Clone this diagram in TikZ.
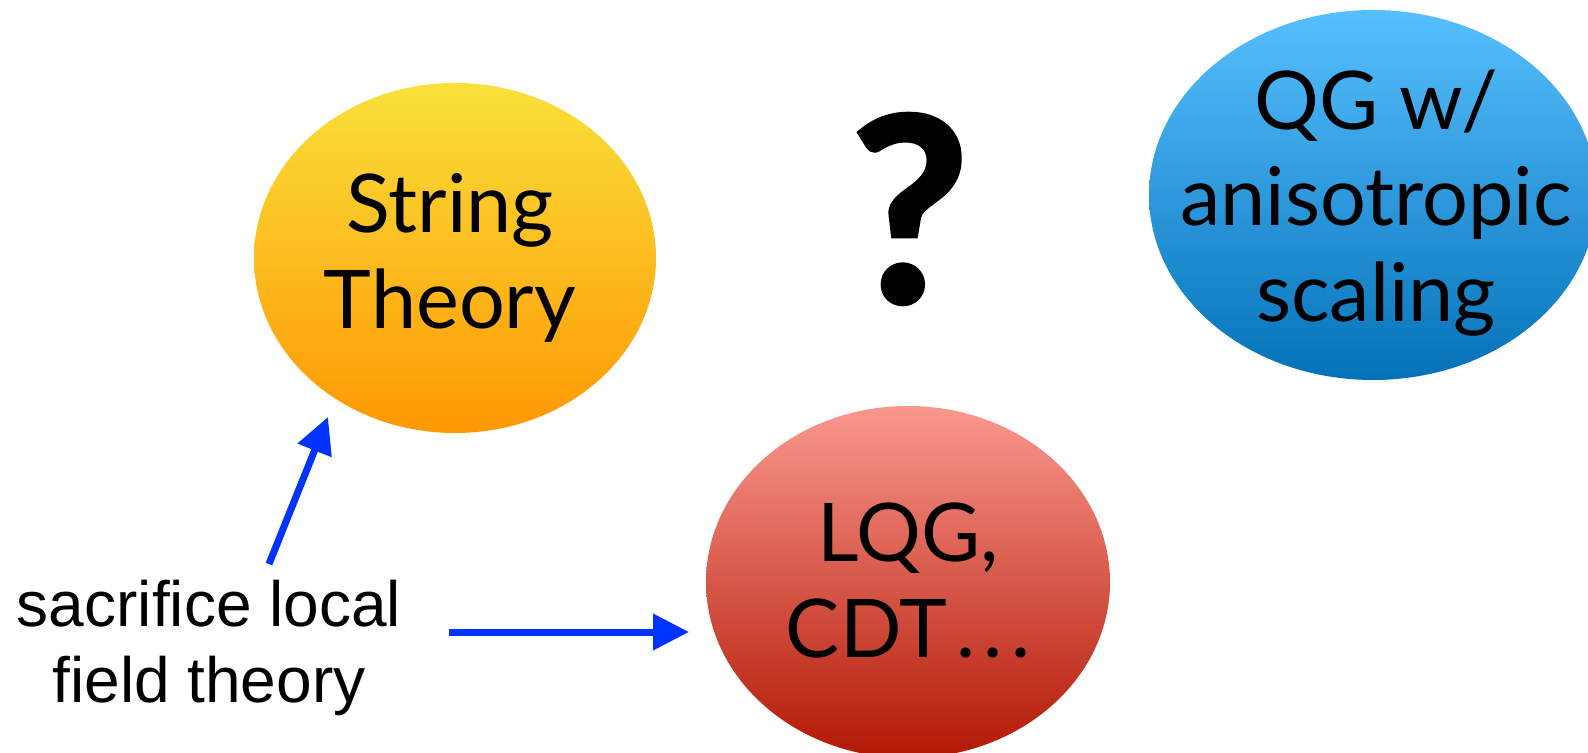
\documentclass[tikz,border=0pt]{standalone}
\usepackage{fontspec}
\usetikzlibrary{shapes.geometric,arrows.meta}
\newfontfamily\bubblefont{Lato}
\newfontfamily\notefont{Liberation Sans}
\newfontfamily\markfont[BoldFeatures={FakeBold=1.3}]{Carlito}
\definecolor{arrowblue}{RGB}{0,51,255}
\definecolor{yellowtop}{RGB}{249,224,58}
\definecolor{yellowbot}{RGB}{255,152,4}
\definecolor{bluetop}{RGB}{86,191,255}
\definecolor{bluebot}{RGB}{5,114,184}
\definecolor{redtop}{RGB}{250,152,142}
\definecolor{redbot}{RGB}{178,24,4}
\newcommand{\wdots}{\kern0.12em.\kern0.1em.\kern0.1em.}
\begin{document}
\begin{tikzpicture}[x=0.5pt,y=-0.5pt,
  blob/.style={ellipse, draw=none, inner sep=0pt},
  bubbletext/.style={align=center, inner sep=0pt, text=black,
    font=\bubblefont\fontsize{40.5}{48}\selectfont},
  note/.style={align=center, inner sep=0pt, text=black,
    font=\notefont\fontsize{32}{38}\selectfont},
  arr/.style={draw=arrowblue, line width=3.5pt,
    -{Triangle[length=18pt,width=17.5pt]}}]
  \useasboundingbox (0,0) rectangle (1588,753);
  \clip (0,0) rectangle (1588,753);
  \fill[white] (0,0) rectangle (1588,753);

  % the three approaches
  \node[blob, minimum width=201pt, minimum height=175pt,
        top color=yellowtop, bottom color=yellowbot] (st) at (455,258) {};
  \node[bubbletext] (sttext) at (450,258) {String\\Theory};

  \node[blob, minimum width=224pt, minimum height=185pt,
        top color=bluetop, bottom color=bluebot] (qg) at (1373,195) {};
  \node[bubbletext] (qgtext) at (1376,203) {QG w/\\anisotropic\\scaling};

  \node[blob, minimum width=202pt, minimum height=176pt,
        top color=redtop, bottom color=redbot] (lq) at (908,582) {};
  \node[bubbletext] (lqtext) at (908,580) {LQG,\\CDT\wdots};

  % open question
  \node[inner sep=0pt, font=\markfont\bfseries\fontsize{137}{137}\selectfont]
    (qm) at (909,209) {?};

  % the common assumption and where it leads
  \node[note] (lbl) at (209,648) {sacrifice local\\field theory};

  \coordinate (upstart) at (269,564);
  \coordinate (upend) at (328,417);
  \coordinate (rightstart) at (449,632);
  \coordinate (rightend) at (689,632);
  \draw[arr] (upstart) -- (upend);
  \draw[arr] (rightstart) -- (rightend);
\end{tikzpicture}
\end{document}
